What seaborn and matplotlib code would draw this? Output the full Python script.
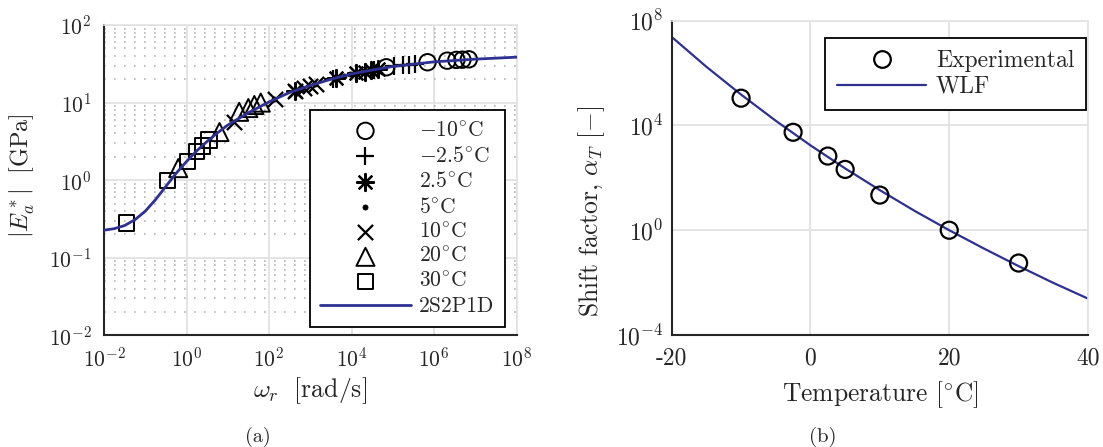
import numpy as np
import pandas as pd
import matplotlib
matplotlib.use("Agg")
import matplotlib.pyplot as plt
import seaborn as sns
from matplotlib.ticker import LogLocator, NullLocator, NullFormatter, FixedLocator
from matplotlib.lines import Line2D

# ---------------- data ----------------
freq_hz = [0.1, 1, 3, 5, 7, 10]
temperatures = [-10, -2.5, 2.5, 5, 10, 20, 30]
temp_labels = [r"$-10^{\circ}$C", r"$-2.5^{\circ}$C", r"$2.5^{\circ}$C", r"$5^{\circ}$C",
               r"$10^{\circ}$C", r"$20^{\circ}$C", r"$30^{\circ}$C"]
shift_factor = [1.1e5, 5.5e3, 6.8e2, 2.1e2, 2.2e1, 1.0, 5.6e-2]

E_m10 = [28.5, 33.1, 34.7, 35.5, 35.7, 36.1]
E_m2p5 = [20.2, 26.6, 29.2, 30.2, 30.9, 31.6]
E_2p5 = [14.1, 20.9, 24.0, 25.1, 26.3, 26.9]
E_5 = [11.0, 17.4, 20.4, 22.1, 23.2, 24.0]
E_10 = [5.6, 11.0, 14.1, 15.5, 16.6, 17.4]
E_20 = [1.43, 4.17, 7.6, 8.5, 9.3, 10.0]
E_30 = [0.28, 1.0, 1.74, 2.34, 2.75, 3.3]
E_sets = [E_m10, E_m2p5, E_2p5, E_5, E_10, E_20, E_30]

model_omega = [1e-2, 1.78e-2, 3.16e-2, 5.62e-2, 0.1, 0.178, 0.316, 0.562, 1, 1.78, 3.16,
               5.62, 10, 31.6, 100, 316, 1e3, 3.16e3, 1e4, 3.16e4, 1e5, 1e6, 1e7, 1e8]
model_E = [0.2265, 0.237, 0.260, 0.309, 0.398, 0.562, 0.832, 1.23, 1.74, 2.40, 3.16,
           4.07, 5.13, 7.41, 10.2, 13.5, 16.6, 20.0, 23.4, 26.3, 29.2, 33.5, 36.3, 38.5]

wlf_T = [-20, -15, -10, -5, 0, 5, 10, 15, 20, 25, 30, 35, 40]
wlf_aT = [2.4e7, 1.74e6, 1.51e5, 1.51e4, 1.74e3, 229, 33.9, 5.5, 1.0, 0.2, 0.0427,
          0.00977, 0.00245]

xticks_a = [1e-2, 1e0, 1e2, 1e4, 1e6, 1e8]
yticks_a = [1e-2, 1e-1, 1e0, 1e1, 1e2]
xticks_b = [-20, 0, 20, 40]
xticklabels_b = ["-20", "0", "20", "40"]
yticks_b = [1e-4, 1e0, 1e4, 1e8]

# ---------------- style ----------------
sns.set_theme(style="white")
plt.rcParams.update({
    "font.family": ["cmr10", "DejaVu Serif"],
    "mathtext.fontset": "cm",
    "axes.formatter.use_mathtext": True,
    "axes.unicode_minus": False,
    "font.size": 15,
})

LINE_C = "#2e3192"
SPINE_C = "#262626"
GRID_C = "#e2e2e2"

fig = plt.figure(figsize=(11.03, 4.47), dpi=100)
axA = fig.add_axes([104 / 1103, 1 - 335.3 / 447, 412.7 / 1103, 310.3 / 447])
axB = fig.add_axes([671.7 / 1103, 1 - 335 / 447, 416.3 / 1103, 314.3 / 447])


def style_axes(ax, fs):
    ax.set_axisbelow(True)
    for s in ["left", "bottom"]:
        ax.spines[s].set_color(SPINE_C)
        ax.spines[s].set_linewidth(1.5)
    for s in ["top", "right"]:
        ax.spines[s].set_color(GRID_C)
        ax.spines[s].set_linewidth(1.2)
    ax.tick_params(which="both", direction="in", top=False, right=False,
                   colors=SPINE_C, labelcolor="#262626", labelsize=fs)
    ax.tick_params(which="major", length=5, width=1.2)
    ax.tick_params(which="minor", length=3, width=1.0)


# ---------------- panel (a) ----------------
markers = ["o", "+", (8, 2, 0), "o", "x", "^", "s"]
sizes = [140, 170, 150, 14, 120, 170, 120]
kinds = ["open", "line", "line", "solid", "line", "open", "open"]
handles = []
for T, lab, aT, E, m, s, k in zip(temperatures, temp_labels, shift_factor, E_sets,
                                   markers, sizes, kinds):
    omega_r = [2 * np.pi * fr * aT for fr in freq_hz]
    df = pd.DataFrame({"omega": omega_r, "E": E})
    if k == "open":
        sns.scatterplot(data=df, x="omega", y="E", ax=axA, marker=m, s=s,
                        facecolor="none", edgecolor="black", linewidth=1.4, zorder=3)
    elif k == "solid":
        sns.scatterplot(data=df, x="omega", y="E", ax=axA, marker=m, s=s,
                        facecolor="black", edgecolor="black", linewidth=0.5, zorder=3)
    else:
        sns.scatterplot(data=df, x="omega", y="E", ax=axA, marker=m, s=s,
                        color="black", linewidth=1.6, zorder=3)
    handles.append(axA.collections[-1])

df_model = pd.DataFrame({"omega": model_omega, "E": model_E})
sns.lineplot(data=df_model, x="omega", y="E", ax=axA, color=LINE_C, linewidth=2.0,
             zorder=4, estimator=None, sort=False)
line_handle = Line2D([], [], color=LINE_C, linewidth=2.0)

axA.set_xscale("log")
axA.set_yscale("log")
axA.set_xlim(1e-2, 1e8)
axA.set_ylim(1e-2, 1e2)
axA.xaxis.set_major_locator(FixedLocator(xticks_a))
axA.yaxis.set_major_locator(FixedLocator(yticks_a))
axA.yaxis.set_minor_locator(LogLocator(base=10, subs=np.arange(2, 10), numticks=20))
axA.xaxis.set_minor_locator(NullLocator())
axA.yaxis.set_minor_formatter(NullFormatter())
axA.grid(which="major", color=GRID_C, linewidth=1.3, linestyle="-")
axA.grid(which="minor", axis="y", color="#b5b5b5", linewidth=1.2, linestyle=(0, (1, 5)))
style_axes(axA, 15.5)
axA.tick_params(axis="y", pad=9)
axA.tick_params(axis="x", pad=8)

axA.set_xlabel(r"$\omega_r\ \ \mathrm{[rad/s]}$", fontsize=18.5)
axA.set_ylabel(r"$|E_a^*|\ \ \mathrm{[GPa]}$", fontsize=17.5)
axA.xaxis.set_label_coords(0.5, -0.128)
axA.yaxis.set_label_coords(-0.163, 0.515)

legA = axA.legend(handles + [line_handle], temp_labels + ["2S2P1D"], loc="lower right",
                  bbox_to_anchor=(505 / 1103, 1 - 327 / 447), bbox_transform=fig.transFigure,
                  frameon=True, fancybox=False, edgecolor="black", framealpha=1,
                  borderaxespad=0, handlelength=4.2, handletextpad=0.38, labelspacing=0.25,
                  borderpad=0.5, fontsize=15.5, scatterpoints=1)
legA.get_frame().set_linewidth(1.3)
legA.set_zorder(10)

# ---------------- panel (b) ----------------
df_exp = pd.DataFrame({"T": temperatures, "aT": shift_factor})
df_wlf = pd.DataFrame({"T": wlf_T, "aT": wlf_aT})
sns.lineplot(data=df_wlf, x="T", y="aT", ax=axB, color=LINE_C, linewidth=1.6,
             estimator=None, sort=False, zorder=2)
sns.scatterplot(data=df_exp, x="T", y="aT", ax=axB, marker="o", s=150,
                facecolor="none", edgecolor="black", linewidth=1.6, zorder=3)
axB.set_yscale("log")
axB.set_xlim(-20, 40)
axB.set_ylim(1e-4, 1e8)
axB.yaxis.set_major_locator(FixedLocator(yticks_b))
axB.yaxis.set_minor_locator(NullLocator())
axB.set_xticks(xticks_b)
axB.set_xticklabels(xticklabels_b)
axB.grid(which="major", color=GRID_C, linewidth=1.3, linestyle="-")
style_axes(axB, 17)
axB.tick_params(axis="y", pad=6)
axB.tick_params(axis="x", pad=9)
axB.set_xlabel(r"Temperature [$^{\circ}$C]", fontsize=18.4)
axB.set_ylabel(r"Shift factor, $\alpha_T$ [$-$]", fontsize=18.4)
axB.xaxis.set_label_coords(0.5, -0.141)
axB.yaxis.set_label_coords(-0.155, 0.395)

hB = [Line2D([], [], marker="o", markersize=12, markerfacecolor="none",
             markeredgecolor="black", markeredgewidth=1.6, linestyle="none"),
      Line2D([], [], color=LINE_C, linewidth=1.6)]
legB = axB.legend(hB, ["Experimental", "WLF"], loc="upper right",
                  bbox_to_anchor=(1086 / 1103, 1 - 38.3 / 447), bbox_transform=fig.transFigure,
                  frameon=True, fancybox=False, edgecolor="black", framealpha=1,
                  borderaxespad=0, handlelength=3.8, handletextpad=0.4, labelspacing=0.15,
                  borderpad=0.5, fontsize=17)
legB.get_frame().set_linewidth(1.3)

fig.text(258 / 1103, 1 - 437 / 447, "(a)", ha="center", va="center", fontsize=14.5)
fig.text(823 / 1103, 1 - 437 / 447, "(b)", ha="center", va="center", fontsize=15)

fig.savefig("out.png", dpi=100)
